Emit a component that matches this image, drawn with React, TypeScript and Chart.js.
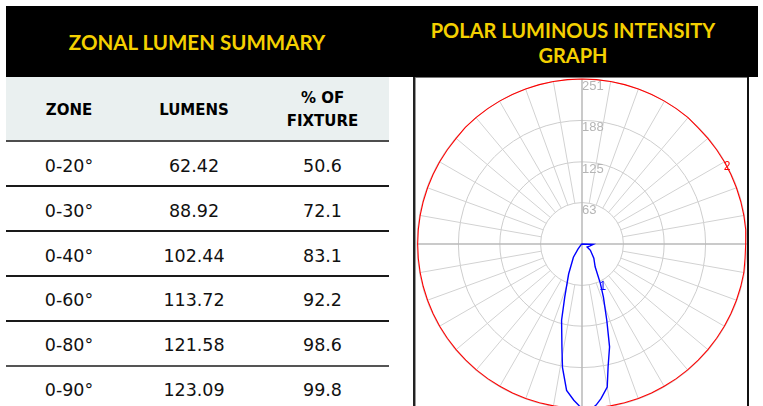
import React, { useEffect, useRef } from "react";
import { Chart, registerables } from "chart.js";

Chart.register(...registerables);

// ---- Table data ----
const tableTitle = "ZONAL LUMEN SUMMARY";
const graphTitleLines = ["POLAR LUMINOUS INTENSITY", "GRAPH"];
const headerZone = "ZONE";
const headerLumens = "LUMENS";
const headerPercentLines = ["% OF", "FIXTURE"];
const zones = ["0-20°", "0-30°", "0-40°", "0-60°", "0-80°", "0-90°"];
const lumens = [62.42, 88.92, 102.44, 113.72, 121.58, 123.09];
const percentOfFixture = [50.6, 72.1, 83.1, 92.2, 98.6, 99.8];

// ---- Polar graph data ----
// angles measured from nadir (0°), going round through 90° (left), 180° (zenith), 270° (right)
const ringTicks = [63, 125, 188, 251];
const blueAngles = [0, 1, 3, 6, 9, 11, 15, 18, 24, 33, 38, 45, 60, 90, 269, 272, 285, 300, 307, 320, 330, 335, 338, 342, 345, 348, 350, 353, 355, 357, 359];
const blueValues = [250, 246, 238, 224, 190, 160, 120, 85, 50, 24, 10, 3, 1, 0, 0, 17, 12, 9, 16, 28, 40, 66, 87, 122, 162, 191, 221, 237, 246, 252, 252];
const redAngles = [0, 5, 10, 15, 20, 25, 30, 35, 40, 45, 50, 55, 60, 65, 70, 75, 80, 85, 90, 95, 100, 105, 110, 115, 120, 125, 130, 135, 140, 145, 150, 155, 160, 165, 170, 175, 180, 185, 190, 195, 200, 205, 210, 215, 220, 225, 230, 235, 240, 245, 250, 255, 260, 265, 270, 275, 280, 285, 290, 295, 300, 305, 310, 315, 320, 325, 330, 335, 340, 345, 350, 355];
const redValues = [250, 250, 250, 250, 250, 250, 250, 250, 250, 250, 250, 250, 250, 250, 250, 250, 250, 250, 250, 250, 250, 250, 250, 250, 250, 250, 250, 251, 251, 251, 251, 251, 251, 251, 251, 251, 251, 251, 251, 251, 251, 251, 251, 251, 251, 250, 250, 250, 250, 250, 250, 250, 250, 250, 249, 249, 250, 250, 250, 250, 250, 250, 250, 250, 250, 250, 250, 250, 250, 250, 250, 250];
const blueLabel = { text: "1", angle: 335 };
const redLabel = { text: "2", angle: 242 };

const angleLabels = Array.from({ length: 360 }, (_, i) => `${i}°`);

function toSeries(angles: number[], values: number[]) {
  const arr: (number | null)[] = new Array(360).fill(null);
  angles.forEach((a, i) => {
    arr[a] = values[i];
  });
  return arr;
}

function nearestValue(angles: number[], values: number[], a: number) {
  let best = 0;
  angles.forEach((x, i) => {
    if (Math.abs(x - a) < Math.abs(angles[best] - a)) best = i;
  });
  return values[best];
}

const polarGridPlugin = {
  id: "polarGrid",
  beforeDatasetsDraw(chart: any) {
    const s = chart.scales.r;
    const ctx = chart.ctx;
    const rIn = s.getDistanceFromCenterForValue(ringTicks[0]);
    const rOut = s.getDistanceFromCenterForValue(ringTicks[ringTicks.length - 1]);
    ctx.save();
    for (let a = 0; a < 360; a += 10) {
      const axis = a % 90 === 0;
      const p0 = s.getPointPosition(a, axis ? 0 : rIn);
      const p1 = s.getPointPosition(a, rOut);
      ctx.beginPath();
      ctx.strokeStyle = axis ? "#b9b9b9" : "#d2d2d2";
      ctx.lineWidth = axis ? 1.5 : 1;
      ctx.moveTo(p0.x, p0.y);
      ctx.lineTo(p1.x, p1.y);
      ctx.stroke();
    }
    ctx.font = '13px "Liberation Sans Narrow", "Liberation Sans", Arial, sans-serif';
    ctx.fillStyle = "#b5b5b5";
    ctx.textAlign = "left";
    ctx.textBaseline = "alphabetic";
    ringTicks.forEach((v) => {
      const d = s.getDistanceFromCenterForValue(v);
      ctx.fillText(String(v), s.xCenter, s.yCenter - d + 11);
    });
    ctx.restore();
  },
  afterDatasetsDraw(chart: any) {
    const s = chart.scales.r;
    const ctx = chart.ctx;
    ctx.save();
    ctx.font = '12px "Liberation Sans", Arial, sans-serif';
    ctx.textAlign = "center";
    ctx.textBaseline = "middle";
    const pb = s.getPointPositionForValue(blueLabel.angle, nearestValue(blueAngles, blueValues, blueLabel.angle));
    ctx.fillStyle = "#0000ff";
    ctx.fillText(blueLabel.text, pb.x + 2.5, pb.y + 3);
    const pr = s.getPointPositionForValue(redLabel.angle, nearestValue(redAngles, redValues, redLabel.angle));
    ctx.fillStyle = "#ff0000";
    ctx.fillText(redLabel.text, pr.x, pr.y);
    ctx.restore();
  },
};

function PolarChart() {
  const ref = useRef<HTMLCanvasElement | null>(null);
  useEffect(() => {
    if (!ref.current) return;
    const chart = new Chart(ref.current, {
      type: "radar",
      data: {
        labels: angleLabels,
        datasets: [
          {
            label: "1",
            data: toSeries(blueAngles, blueValues),
            borderColor: "#0000ff",
            backgroundColor: "transparent",
            borderWidth: 1.4,
            pointRadius: 0,
            fill: false,
            spanGaps: true,
            tension: 0,
          },
          {
            label: "2",
            data: toSeries(redAngles, redValues),
            borderColor: "#ff0000",
            backgroundColor: "transparent",
            borderWidth: 1.1,
            pointRadius: 0,
            fill: false,
            spanGaps: true,
            tension: 0,
          },
        ],
      },
      options: {
        responsive: false,
        maintainAspectRatio: false,
        animation: false,
        layout: { padding: 1 },
        plugins: { legend: { display: false }, tooltip: { enabled: false } },
        scales: {
          r: {
            min: 0,
            max: 251,
            startAngle: 180,
            angleLines: { display: false },
            pointLabels: { display: false },
            ticks: { display: false },
            grid: { circular: true, color: "#cdcdcd", lineWidth: 1 },
            afterBuildTicks: (scale: any) => {
              scale.ticks = [0, ...ringTicks].map((v) => ({ value: v }));
            },
          },
        },
      } as any,
      plugins: [polarGridPlugin],
    });
    return () => chart.destroy();
  }, []);
  return <canvas ref={ref} width={332} height={332} style={{ display: "block" }} />;
}

const titleFont = 'Lato, "DejaVu Sans", sans-serif';
const bodyFont = '"DejaVu Sans", sans-serif';
const yellow = "#f4d000";

const colLeft = [6, 132, 256];
const colWidth = [126, 124, 133];
const rowTop0 = 142;
const rowH = 44.8;

export default function App() {
  const abs = (s: React.CSSProperties): React.CSSProperties => ({ position: "absolute", ...s });
  return (
    <div style={abs({ left: 0, top: 0, width: 763, height: 406, overflow: "hidden", background: "#fff" })}>
      {/* black header band */}
      <div style={abs({ left: 6, top: 6, width: 752, height: 71, background: "#000" })} />
      <div
        style={abs({
          left: 6, top: 7, width: 382, height: 71, lineHeight: "71px", textAlign: "center",
          color: yellow, fontFamily: titleFont, fontWeight: 700, fontSize: 20.5,
        })}
      >
        {tableTitle}
      </div>
      <div
        style={abs({
          left: 400, top: 17.5, width: 346, lineHeight: "25px", textAlign: "center",
          color: yellow, fontFamily: titleFont, fontWeight: 700, fontSize: 20,
        })}
      >
        {graphTitleLines.map((l, i) => (
          <div key={i}>{l}</div>
        ))}
      </div>

      {/* table header row */}
      <div style={abs({ left: 6, top: 77, width: 383, height: 63, background: "#eaf0f0" })} />
      {[headerZone, headerLumens].map((h, i) => (
        <div
          key={h}
          style={abs({
            left: colLeft[i], top: 77, width: colWidth[i], height: 63, display: "flex",
            alignItems: "center", justifyContent: "center", paddingTop: 3, boxSizing: "border-box",
            fontFamily: bodyFont, fontWeight: 700, fontSize: 15, color: "#000",
          })}
        >
          {h}
        </div>
      ))}
      <div
        style={abs({
          left: colLeft[2], top: 87, width: colWidth[2], lineHeight: "23px", textAlign: "center",
          fontFamily: bodyFont, fontWeight: 700, fontSize: 15, color: "#000",
        })}
      >
        {headerPercentLines.map((l, i) => (
          <div key={i}>{l}</div>
        ))}
      </div>
      <div style={abs({ left: 6, top: 140, width: 383, height: 2, background: "#4d4d4d" })} />

      {/* table body */}
      {zones.map((z, i) => {
        const top = rowTop0 + i * rowH;
        const cells = [z, lumens[i].toFixed(2), percentOfFixture[i].toFixed(1)];
        return (
          <React.Fragment key={z}>
            {cells.map((c, j) => (
              <div
                key={j}
                style={abs({
                  left: colLeft[j], top: top + 2, width: colWidth[j], height: rowH, lineHeight: `${rowH}px`,
                  textAlign: "center", fontFamily: bodyFont, fontSize: 17.5, color: "#111",
                })}
              >
                {c}
              </div>
            ))}
            {i < zones.length - 1 && (
              <div
                style={abs({
                  left: 6, top: top + rowH - 1.5, width: 383, height: 2,
                  background: i === zones.length - 2 ? "#555" : "#1a1a1a",
                })}
              />
            )}
          </React.Fragment>
        );
      })}

      {/* polar graph */}
      <div style={abs({ left: 416, top: 78, width: 332, height: 332 })}>
        <PolarChart />
      </div>
      <div style={abs({ left: 413, top: 77, width: 2, height: 340, background: "#222" })} />
      <div style={abs({ left: 415, top: 78, width: 1, height: 340, background: "#999" })} />
      <div style={abs({ left: 415, top: 77, width: 333, height: 1, background: "#777" })} />
      <div style={abs({ left: 747, top: 77, width: 2, height: 340, background: "#111" })} />
    </div>
  );
}
